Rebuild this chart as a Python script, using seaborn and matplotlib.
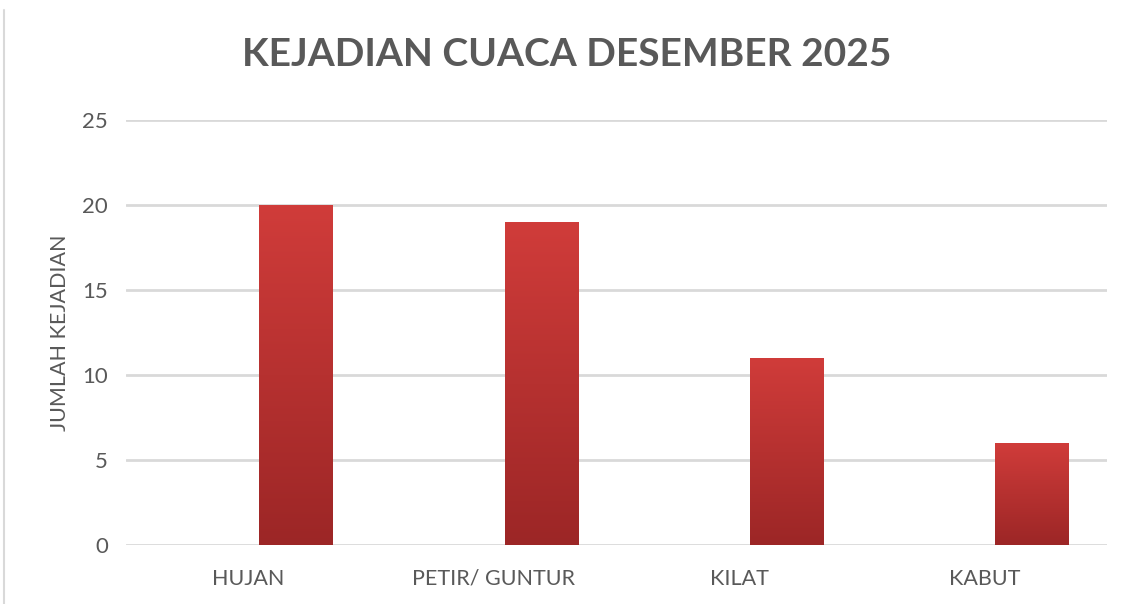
import numpy as np
import pandas as pd
import matplotlib
matplotlib.use("Agg")
import matplotlib.pyplot as plt
import seaborn as sns
from matplotlib.colors import LinearSegmentedColormap
from matplotlib.lines import Line2D

categories = ["HUJAN", "PETIR/ GUNTUR", "KILAT", "KABUT"]
values = [20, 19, 11, 6]
y_ticks = [0, 5, 10, 15, 20, 25]

title = "KEJADIAN CUACA DESEMBER 2025"
ylabel = "JUMLAH KEJADIAN"

sns.set_theme(style="white")
plt.rcParams["font.family"] = ["Lato", "DejaVu Sans"]

fig = plt.figure(figsize=(11.34, 6.04), dpi=100)
ax = fig.add_axes([126/1134, 59/604, (1107-126)/1134, (545-120)/604])

df = pd.DataFrame({"cat": categories, "val": values})
sns.barplot(data=df, x="cat", y="val", ax=ax, width=0.30, color="#c03434",
            edgecolor="none", linewidth=0, zorder=3)

cmap = LinearSegmentedColormap.from_list("g", ["#9c2626", "#d03c3a"])
grad = np.linspace(0, 1, 256).reshape(-1, 1)
offset = 0.194
for p in ax.patches:
    p.set_x(p.get_x() + offset)
    x0, w = p.get_x(), p.get_width()
    h = p.get_height()
    p.set_facecolor("none")
    im = ax.imshow(grad, cmap=cmap, origin="lower", aspect="auto",
                   extent=[x0, x0 + w, 0, h], zorder=3, interpolation="bilinear")
    im.set_clip_path(p)

ax.set_xlim(-0.5, len(categories) - 0.5)
ax.set_ylim(0, 25)
ax.set_yticks(y_ticks)
ax.yaxis.grid(True, color="#d9d9d9", linewidth=2, zorder=0)
ax.set_axisbelow(True)
for s in ax.spines.values():
    s.set_visible(False)
ax.tick_params(axis="both", length=0, colors="#595959")
ax.tick_params(axis="y", pad=13, labelsize=16)
ax.tick_params(axis="x", pad=17, labelsize=15.5)
ax.set_xlabel("")
ax.set_ylabel(ylabel, color="#595959", fontsize=15.5)
ax.yaxis.set_label_coords(-0.057, 0.5)

fig.text(0.4995, 0.909, title, ha="center", va="center", fontsize=28,
         fontweight="bold", color="#595959")

fig.add_artist(Line2D([4/1134, 4/1134], [0, 594/604], color="#d9d9d9", linewidth=1.5))

fig.savefig("out.png", dpi=100)
